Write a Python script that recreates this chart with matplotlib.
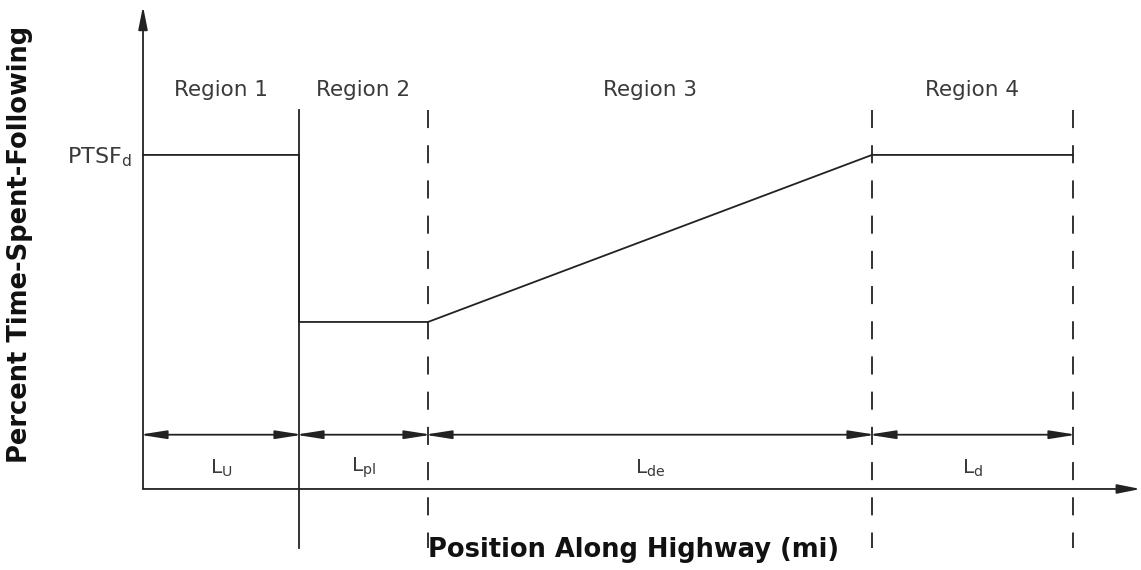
import matplotlib
matplotlib.use("Agg")
import matplotlib.pyplot as plt
import numpy as np

# ---- data (schematic) ----
regions = ["Region 1", "Region 2", "Region 3", "Region 4"]
seg_labels = [r"L$_\mathregular{U}$", r"L$_\mathregular{pl}$", r"L$_\mathregular{de}$", r"L$_\mathregular{d}$"]
seg_lengths = [1.56, 1.29, 4.44, 2.01]          # mi (schematic)
ptsf_d = 80.0                                    # upstream PTSF
ptsf_pl = 40.0                                   # PTSF within passing lane
ptsf_label = r"PTSF$_\mathregular{d}$"

bounds = np.concatenate([[0.0], np.cumsum(seg_lengths)])

fig = plt.figure(figsize=(11.41, 5.70), dpi=100)
ax = fig.add_axes([0, 0, 1, 1])
ax.set_xlim(-1.43, 9.98)
ax.set_ylim(-19.4, 117.1)
ax.axis("off")

lc = "#222222"
tc = "#3a3a3a"
lw = 1.3

# axes with arrows
ax.annotate("", xy=(0, 115.6), xytext=(0, 0),
            arrowprops=dict(arrowstyle="-|>,head_length=1.0,head_width=0.2",
                            mutation_scale=14, lw=lw, color=lc, shrinkA=0, shrinkB=0))
ax.annotate("", xy=(9.975, 0), xytext=(0, 0),
            arrowprops=dict(arrowstyle="-|>,head_length=1.0,head_width=0.2",
                            mutation_scale=14, lw=lw, color=lc, shrinkA=0, shrinkB=0))

# PTSF profile
x_prof = [bounds[0], bounds[1], bounds[1], bounds[2], bounds[3], bounds[4]]
y_prof = [ptsf_d, ptsf_d, ptsf_pl, ptsf_pl, ptsf_d, ptsf_d]
ax.plot(x_prof, y_prof, color=lc, lw=lw, solid_joinstyle="miter")

# boundary lines
top, bot = 90.8, -14.1
ax.plot([bounds[1], bounds[1]], [top, bot], color=lc, lw=lw)
for b in bounds[2:]:
    ax.plot([b, b], [top, bot], color=lc, lw=lw, linestyle=(0, (10.0, 9.5)))

# dimension arrows and labels
dim_y = 13.0
pad = 0.035  # compensates arrow tip pull-back so tips touch the boundary lines
for i in range(4):
    ax.annotate("", xy=(bounds[i + 1] + pad, dim_y), xytext=(bounds[i] - pad, dim_y),
                arrowprops=dict(arrowstyle="<|-|>,head_length=1.15,head_width=0.18",
                                mutation_scale=14, lw=lw, color=lc, shrinkA=0, shrinkB=0))
    mid = (bounds[i] + bounds[i + 1]) / 2
    ax.text(mid, 5.0, seg_labels[i], ha="center", va="center", fontsize=14.5, color=tc)
    ax.text(mid, 95.6, regions[i], ha="center", va="center", fontsize=15.5, color=tc)

ax.text(-0.11, 79.5, ptsf_label, ha="right", va="center", fontsize=16, color=tc)

ax.text(-1.23, 58.5, "Percent Time-Spent-Following", rotation=90, ha="center", va="center",
        fontsize=18.5, fontweight="bold", color="#111111")
ax.text(bounds[2], -14.6, "Position Along Highway (mi)", ha="left", va="center",
        fontsize=18.5, fontweight="bold", color="#111111")

fig.savefig("out.png", dpi=100)
